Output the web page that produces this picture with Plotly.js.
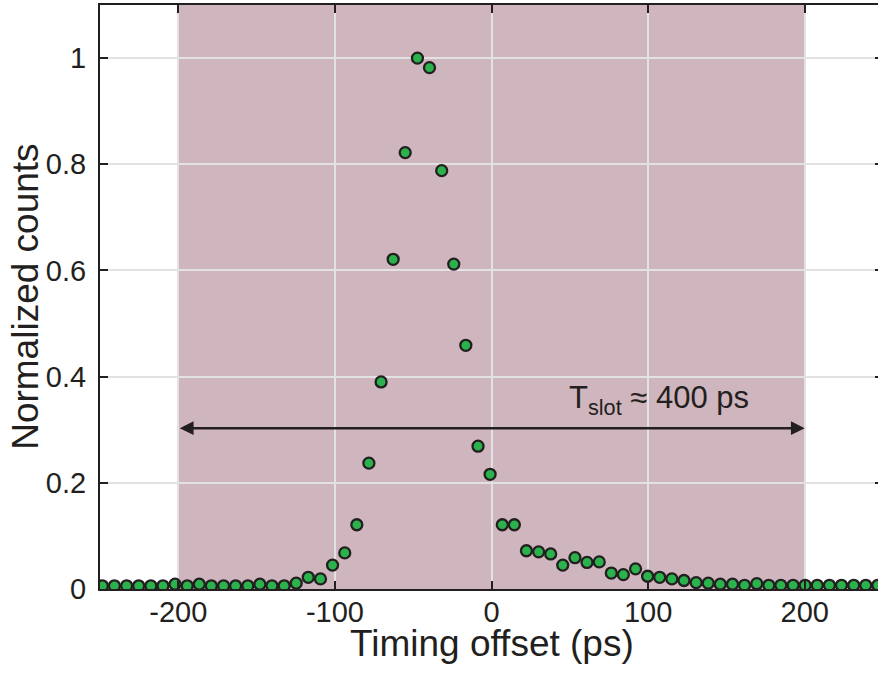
<!DOCTYPE html>
<html>
<head>
<meta charset="utf-8">
<script src="https://cdn.plot.ly/plotly-3.0.1.min.js"></script>
<style>
html, body { margin: 0; padding: 0; overflow: hidden; background: #fff; }
#chart { width: 886px; height: 682px; }
</style>
</head>
<body>
<div id="chart"></div>
<script>
// Timing offset (ps) of each histogram bin
const timingOffset = [
  -248.5, -240.8, -233.0, -225.3, -217.5, -209.8, -202.1, -194.3, -186.6, -178.9,
  -171.1, -163.4, -155.6, -147.9, -140.2, -132.4, -124.7, -117.0, -109.2, -101.5,
  -93.7, -86.0, -78.3, -70.5, -62.8, -55.1, -47.3, -39.6, -31.8, -24.1,
  -16.4, -8.6, -0.9, 6.9, 14.6, 22.3, 30.1, 37.8, 45.5, 53.3,
  61.0, 68.8, 76.5, 84.2, 92.0, 99.7, 107.4, 115.2, 122.9, 130.7,
  138.4, 146.1, 153.9, 161.6, 169.4, 177.1, 184.8, 192.6, 200.3, 208.0,
  215.8, 223.5, 231.3, 239.0, 246.7
];
// Normalized counts
const normalizedCounts = [
  0.006, 0.006, 0.006, 0.006, 0.006, 0.006, 0.009, 0.006, 0.009, 0.006,
  0.006, 0.006, 0.006, 0.009, 0.006, 0.006, 0.011, 0.022, 0.019, 0.045,
  0.068, 0.121, 0.237, 0.390, 0.621, 0.822, 1.000, 0.982, 0.788, 0.612,
  0.459, 0.269, 0.216, 0.121, 0.121, 0.072, 0.070, 0.066, 0.045, 0.059,
  0.050, 0.051, 0.030, 0.027, 0.038, 0.024, 0.022, 0.019, 0.016, 0.012,
  0.011, 0.009, 0.009, 0.007, 0.010, 0.007, 0.007, 0.007, 0.007, 0.007,
  0.007, 0.007, 0.007, 0.007, 0.007
];
const xTickVals = [-200, -100, 0, 100, 200];
const xTickText = ['-200', '-100', '0', '100', '200'];
const yTickVals = [0, 0.2, 0.4, 0.6, 0.8, 1];
const yTickText = ['0', '0.2', '0.4', '0.6', '0.8', '1'];
const slotWindow = [-200, 200];
const arrowLevel = 0.303;
const slotLabel = 'T<sub>slot</sub> ≈ 400 ps';
const xTitle = 'Timing offset (ps)';
const yTitle = 'Normalized counts';

const ink = '#231f20';
const fontFamily = 'Liberation Sans, Arial, Helvetica, sans-serif';

const trace = {
  x: timingOffset,
  y: normalizedCounts,
  type: 'scatter',
  mode: 'markers',
  marker: { size: 11, color: '#2bb24c', line: { color: ink, width: 2.3 } },
  cliponaxis: true,
  hoverinfo: 'x+y'
};

const axisCommon = {
  ticks: 'inside',
  ticklen: 8,
  tickwidth: 2,
  tickcolor: ink,
  showline: true,
  linecolor: ink,
  linewidth: 2,
  mirror: 'ticks',
  showgrid: true,
  gridcolor: '#e2e2e2',
  gridwidth: 2,
  zeroline: false,
  tickfont: { size: 29, family: fontFamily, color: ink }
};

const layout = {
  width: 886,
  height: 682,
  margin: { l: 100, r: 3, t: 5, b: 93 },
  paper_bgcolor: '#ffffff',
  plot_bgcolor: '#ffffff',
  showlegend: false,
  font: { family: fontFamily, color: ink, size: 29 },
  xaxis: Object.assign({}, axisCommon, {
    range: [-250, 250],
    tickvals: xTickVals,
    ticktext: xTickText,
    ticklabelstandoff: -4
  }),
  yaxis: Object.assign({}, axisCommon, {
    range: [0, 1.1],
    tickvals: yTickVals,
    ticktext: yTickText,
    ticklabelstandoff: 6
  }),
  shapes: [{
    type: 'rect',
    xref: 'x', yref: 'paper',
    x0: slotWindow[0], x1: slotWindow[1], y0: 0, y1: 1,
    fillcolor: '#cfb5bd',
    line: { width: 0 },
    layer: 'below'
  }],
  annotations: [
    {
      x: slotWindow[1], y: arrowLevel, xref: 'x', yref: 'y',
      ax: slotWindow[0], ay: arrowLevel, axref: 'x', ayref: 'y',
      text: '', showarrow: true,
      arrowhead: 2, startarrowhead: 2, arrowside: 'end+start',
      arrowsize: 1.1, startarrowsize: 1.1, arrowwidth: 2.5, arrowcolor: ink,
      standoff: 0, startstandoff: 0
    },
    {
      x: 107, y: 0.356, xref: 'x', yref: 'y',
      text: slotLabel, showarrow: false,
      font: { size: 31, family: fontFamily, color: ink },
      xanchor: 'center', yanchor: 'middle'
    },
    {
      x: 0.5, y: -0.094, xref: 'paper', yref: 'paper',
      text: xTitle, showarrow: false,
      font: { size: 37, family: fontFamily, color: ink },
      xanchor: 'center', yanchor: 'middle'
    },
    {
      x: -0.096, y: 0.5, xref: 'paper', yref: 'paper',
      text: yTitle, showarrow: false, textangle: -90,
      font: { size: 37, family: fontFamily, color: ink },
      xanchor: 'center', yanchor: 'middle'
    }
  ]
};

Plotly.newPlot('chart', [trace], layout, { displayModeBar: false, staticPlot: true });
</script>
</body>
</html>
